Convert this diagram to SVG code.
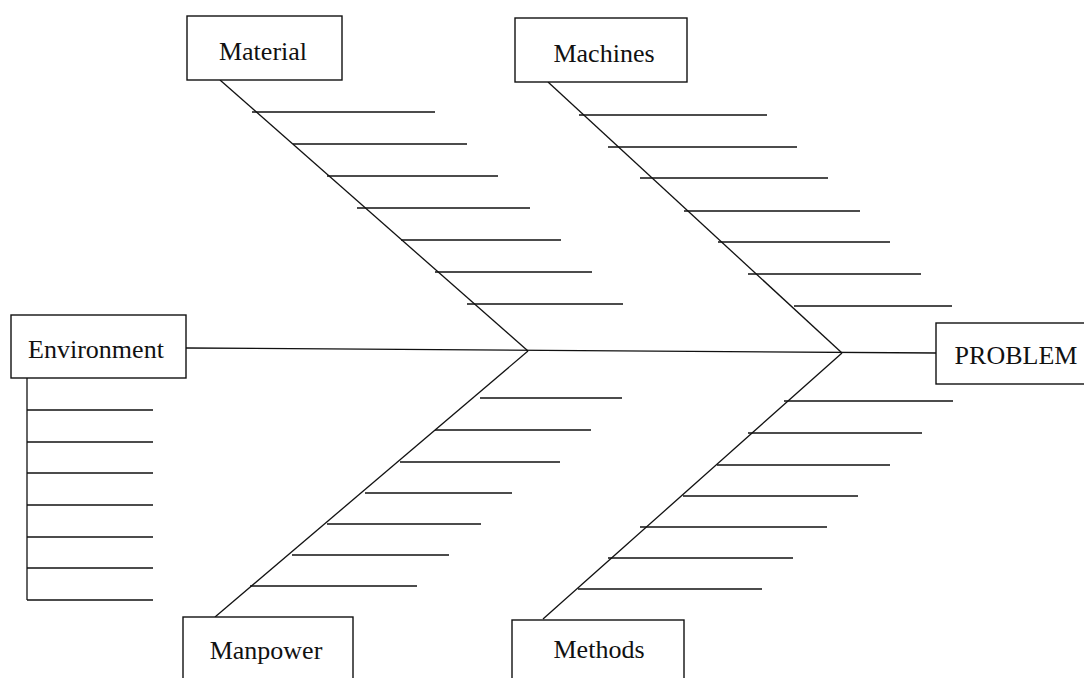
<svg xmlns="http://www.w3.org/2000/svg" width="1084" height="678" viewBox="0 0 1084 678">
<style>
.box{fill:#fff;stroke:#111;stroke-width:1.4}
.lbl{font-family:"Liberation Serif","Times New Roman",serif;font-size:26px;fill:#111;text-anchor:middle}
.ln{stroke:#111;stroke-width:1.3;fill:none}
</style>
<rect width="1084" height="678" fill="#fff"/>
<g id="connectors">
<line class="ln" x1="186" y1="348" x2="936" y2="353"/>
<line class="ln" x1="220" y1="80" x2="528" y2="351"/>
<line class="ln" x1="528" y1="351" x2="215" y2="617"/>
<line class="ln" x1="548" y1="82" x2="842" y2="353"/>
<line class="ln" x1="842" y1="353" x2="543" y2="619"/>
<path class="ln" d="M27,378 V600"/>
<g id="material-ribs">
<line class="ln" x1="252" y1="112" x2="435" y2="112"/>
<line class="ln" x1="293" y1="144" x2="467" y2="144"/>
<line class="ln" x1="327" y1="176" x2="498" y2="176"/>
<line class="ln" x1="357" y1="208" x2="530" y2="208"/>
<line class="ln" x1="401" y1="240" x2="561" y2="240"/>
<line class="ln" x1="435" y1="272" x2="592" y2="272"/>
<line class="ln" x1="467" y1="304" x2="623" y2="304"/>
</g>
<g id="machines-ribs">
<line class="ln" x1="579" y1="115" x2="767" y2="115"/>
<line class="ln" x1="608" y1="147" x2="797" y2="147"/>
<line class="ln" x1="640" y1="178" x2="828" y2="178"/>
<line class="ln" x1="684" y1="211" x2="860" y2="211"/>
<line class="ln" x1="718" y1="242" x2="890" y2="242"/>
<line class="ln" x1="748" y1="274" x2="921" y2="274"/>
<line class="ln" x1="794" y1="306" x2="952" y2="306"/>
</g>
<g id="manpower-ribs">
<line class="ln" x1="480" y1="398" x2="622" y2="398"/>
<line class="ln" x1="435" y1="430" x2="591" y2="430"/>
<line class="ln" x1="400" y1="462" x2="560" y2="462"/>
<line class="ln" x1="365" y1="493" x2="512" y2="493"/>
<line class="ln" x1="327" y1="524" x2="481" y2="524"/>
<line class="ln" x1="292" y1="555" x2="449" y2="555"/>
<line class="ln" x1="250" y1="586" x2="417" y2="586"/>
</g>
<g id="methods-ribs">
<line class="ln" x1="784" y1="401" x2="953" y2="401"/>
<line class="ln" x1="748" y1="433" x2="922" y2="433"/>
<line class="ln" x1="717" y1="465" x2="890" y2="465"/>
<line class="ln" x1="683" y1="496" x2="858" y2="496"/>
<line class="ln" x1="640" y1="527" x2="827" y2="527"/>
<line class="ln" x1="608" y1="558" x2="793" y2="558"/>
<line class="ln" x1="578" y1="589" x2="762" y2="589"/>
</g>
<g id="environment-ribs">
<line class="ln" x1="27" y1="410" x2="153" y2="410"/>
<line class="ln" x1="27" y1="442" x2="153" y2="442"/>
<line class="ln" x1="27" y1="473" x2="153" y2="473"/>
<line class="ln" x1="27" y1="505" x2="153" y2="505"/>
<line class="ln" x1="27" y1="537" x2="153" y2="537"/>
<line class="ln" x1="27" y1="568" x2="153" y2="568"/>
<line class="ln" x1="27" y1="600" x2="153" y2="600"/>
</g>
</g>
<g id="material">
<rect class="box" x="187" y="16" width="155" height="64"/>
<text class="lbl" x="263" y="60">Material</text>
</g>
<g id="machines">
<rect class="box" x="515" y="18" width="172" height="64"/>
<text class="lbl" x="604" y="62">Machines</text>
</g>
<g id="environment">
<rect class="box" x="11" y="315" width="175" height="63"/>
<text class="lbl" x="96" y="358">Environment</text>
</g>
<g id="problem">
<rect class="box" x="936" y="323" width="160" height="61"/>
<text class="lbl" x="1016" y="364">PROBLEM</text>
</g>
<g id="manpower">
<rect class="box" x="183" y="617" width="170" height="80"/>
<text class="lbl" x="266" y="659">Manpower</text>
</g>
<g id="methods">
<rect class="box" x="512" y="620" width="172" height="80"/>
<text class="lbl" x="599" y="658">Methods</text>
</g>
</svg>
